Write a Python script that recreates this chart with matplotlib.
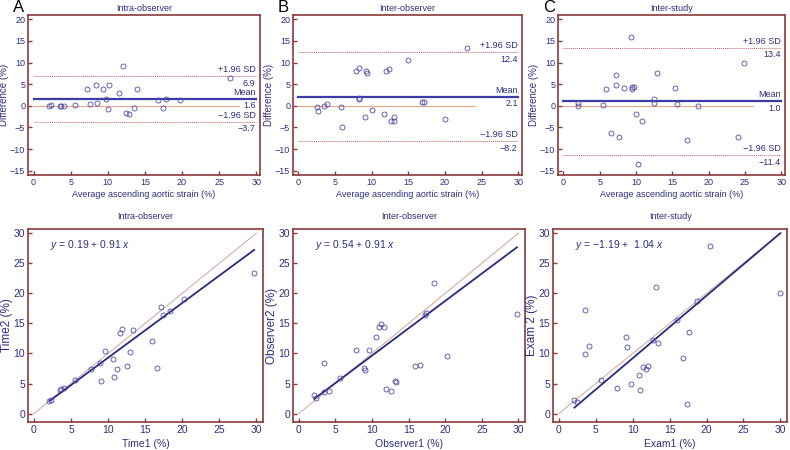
import matplotlib
matplotlib.use('Agg')
import matplotlib.pyplot as plt

plt.rcParams['font.family'] = ['Liberation Sans', 'DejaVu Sans']
plt.rcParams['mathtext.fontset'] = 'custom'
plt.rcParams['mathtext.rm'] = 'Liberation Sans'
plt.rcParams['mathtext.it'] = 'Liberation Sans:italic'

# ---- Bland-Altman data (average, difference) ----
intra_avg = [2.1, 2.3, 3.5, 3.7, 4.1, 5.6, 7.2, 7.6, 8.4, 8.6, 9.3, 9.8, 10.0, 10.2,
             11.5, 12.0, 12.5, 12.9, 13.5, 13.9, 16.7, 17.4, 17.8, 19.7, 26.4]
intra_diff = [0.0, 0.15, -0.15, -0.15, 0.0, 0.15, 3.85, 0.46, 4.9, 0.7, 3.85, 1.6, -0.7, 4.9,
              3.0, 9.15, -1.6, -1.9, -0.54, 4.0, 1.3, -0.4, 1.46, 1.3, 6.5]

inter_avg = [2.5, 2.7, 3.5, 3.9, 5.8, 6.0, 7.9, 8.2, 8.2, 8.3, 9.2, 9.3, 9.1, 10.0,
             11.7, 11.9, 12.4, 12.6, 13.0, 13.0, 14.9, 16.8, 17.1, 20.0, 23.0]
inter_diff = [-0.2, -1.15, -0.1, 0.5, -0.3, -4.8, 8.0, 8.85, 1.9, 1.5, 8.0, 7.5, -2.6, -0.9,
              -2.0, 8.1, 8.5, -3.5, -2.6, -3.5, 10.6, 0.77, 0.77, -3.15, 13.3]

study_avg = [2.0, 2.0, 5.5, 5.9, 6.6, 7.2, 7.25, 7.7, 8.4, 9.3, 9.4, 9.5, 9.7, 10.0,
             10.3, 10.8, 12.4, 12.4, 12.9, 15.4, 15.7, 17.0, 18.5, 24.0, 24.9]
study_diff = [0.6, 0.0, 0.15, 3.8, -6.2, 4.9, 7.2, -7.1, 4.2, 15.8, 3.8, 4.4, 4.3, -1.8,
              -13.4, -3.6, 1.5, 0.6, 7.5, 4.15, 0.46, -7.85, 0.0, -7.3, 9.8]

# mean, upper limit, lower limit
intra_limits = [1.6, 6.9, -3.7]
inter_limits = [2.1, 12.4, -8.2]
study_limits = [1.0, 13.4, -11.4]

# ---- scatter data ----
time1 = [2.1, 2.35, 3.5, 3.7, 4.1, 5.6, 7.7, 8.9, 9.1, 9.6, 10.6, 10.8, 11.2, 11.6,
         11.9, 12.6, 13.0, 13.3, 15.9, 16.6, 17.2, 17.4, 18.4, 20.2, 29.7]
time2 = [2.06, 2.3, 3.85, 4.06, 4.2, 5.56, 7.46, 8.35, 5.4, 10.46, 9.1, 6.07, 7.4, 13.47,
         14.0, 7.9, 10.2, 13.9, 12.1, 7.57, 17.75, 16.36, 17.1, 19.1, 23.4]

obs1 = [2.1, 2.35, 3.5, 3.45, 4.1, 5.65, 7.8, 8.95, 9.1, 9.6, 10.6, 10.9, 11.2, 11.6,
        11.9, 12.6, 13.1, 13.3, 15.9, 16.6, 17.2, 17.4, 18.5, 20.2, 29.8]
obs2 = [3.17, 2.6, 8.4, 3.56, 3.7, 6.0, 10.5, 7.6, 7.2, 10.6, 12.8, 14.4, 14.9, 14.4,
        4.06, 3.7, 5.5, 5.3, 7.9, 8.07, 16.4, 16.75, 21.7, 9.6, 16.5]

exam1 = [2.1, 2.4, 3.5, 3.6, 4.1, 5.7, 7.9, 9.1, 9.2, 9.7, 10.8, 10.95, 11.35, 11.8,
         12.1, 12.8, 13.2, 13.4, 16.0, 16.8, 17.3, 17.6, 18.7, 20.5, 30.0]
exam2 = [2.2, 1.9, 9.9, 17.3, 11.3, 5.6, 4.25, 12.7, 11.0, 5.0, 6.5, 3.9, 7.7, 7.46,
         7.85, 12.3, 21.1, 11.8, 15.5, 9.2, 1.6, 13.5, 18.7, 27.8, 20.1]

# intercept, slope
intra_fit = [0.19, 0.91]
inter_fit = [0.54, 0.91]
study_fit = [-1.19, 1.04]

titles = ['Intra-observer', 'Inter-observer', 'Inter-study']
letters = ['A', 'B', 'C']

FRAME = '#8b3a3a'
TEXT = '#2e2e80'
MARK = '#4c4ca8'

W, H = 790, 450
fig = plt.figure(figsize=(7.9, 4.5), dpi=100)


def px_axes(l, t, r, b):
    return fig.add_axes([l / W, 1 - b / H, (r - l) / W, (b - t) / H])


def style(ax, fs):
    for s in ax.spines.values():
        s.set_color(FRAME)
        s.set_linewidth(1.2)
    ax.tick_params(direction='in', length=3, width=1, color=FRAME,
                   labelcolor=TEXT, labelsize=fs, top=False, right=False, pad=2)
    ax.set_xticks([0, 5, 10, 15, 20, 25, 30])


# ---------- top row: Bland-Altman ----------
top_boxes = [(28, 15, 260, 175), (293, 15, 522, 175), (558, 15, 785, 175)]
ba = [(intra_avg, intra_diff, intra_limits),
      (inter_avg, inter_diff, inter_limits),
      (study_avg, study_diff, study_limits)]

for i, (box, (avg, diff, lim)) in enumerate(zip(top_boxes, ba)):
    ax = px_axes(*box)
    style(ax, 6.5)
    ax.set_xlim(-0.75, 30.5)
    ax.set_ylim(-16, 21)
    ax.set_yticks([-15, -10, -5, 0, 5, 10, 15, 20])
    ax.set_yticklabels(['\u221215', '\u221210', '\u22125', '0', '5', '10', '15', '20'])

    ax.plot([0, max(avg) * 1.05], [0, 0], color='#e8a888', lw=0.8)
    ax.plot([0, 30], [lim[0], lim[0]], color='#3c3ca8', lw=1.6)
    ax.plot([0, 30], [lim[1], lim[1]], color='#c46060', lw=0.7, ls=(0, (1, 1)))
    ax.plot([0, 30], [lim[2], lim[2]], color='#c46060', lw=0.7, ls=(0, (1, 1)))
    ax.plot(avg, diff, 'o', ms=3.6, mfc='none', mec=MARK, mew=0.6)

    for val, lab in zip(lim, ['Mean', '+1.96 SD', '\u22121.96 SD']):
        ax.text(29.9, val + 0.5, lab, ha='right', va='bottom', fontsize=6.5, color=TEXT)
        ax.text(29.9, val - 0.6, f'{val:.1f}'.replace('-', '\u2212'),
                ha='right', va='top', fontsize=6.5, color=TEXT)

    ax.set_xlabel('Average ascending aortic strain (%)', fontsize=6.5, color=TEXT, labelpad=2)
    ax.set_ylabel('Difference (%)', fontsize=7, color=TEXT)
    ax.yaxis.set_label_coords(-19 / (box[2] - box[0]), 0.5)
    ax.set_title(titles[i], fontsize=6.5, color=TEXT, pad=3)
    fig.text((box[0] - 15) / W, 1 - 8 / H, letters[i], fontsize=12,
             ha='left', va='center', color='black')

# ---------- bottom row: scatter with regression ----------
bot_boxes = [(28, 229, 263, 422), (293, 229, 525, 422), (553, 229, 787, 422)]
sc = [(time1, time2, intra_fit, 'Time1 (%)', 'Time2 (%)'),
      (obs1, obs2, inter_fit, 'Observer1 (%)', 'Observer2 (%)'),
      (exam1, exam2, study_fit, 'Exam1 (%)', 'Exam 2 (%)')]

for i, (box, (x, y, fit, xl, yl)) in enumerate(zip(bot_boxes, sc)):
    ax = px_axes(*box)
    style(ax, 7.5)
    ax.set_xlim(-0.8, 30.9)
    ax.set_ylim(-1.4, 30.7)
    ax.set_yticks([0, 5, 10, 15, 20, 25, 30])

    ax.plot([0, 30], [0, 30], color='#d8aca4', lw=0.8)
    x0, x1 = min(x), max(x)
    ax.plot([x0, x1], [fit[0] + fit[1] * x0, fit[0] + fit[1] * x1],
            color='#2a2a80', lw=1.3)
    ax.plot(x, y, 'o', ms=3.6, mfc='none', mec=MARK, mew=0.6)

    b = f'{fit[0]:.2f}'.replace('-', '\u2212')
    gap = ' ' if fit[0] < 0 else ''
    ax.text(0.095, 0.915, f'$y$ = {b} + {gap}{fit[1]:.2f} $x$', transform=ax.transAxes,
            fontsize=7.5, color=TEXT, ha='left', va='center')

    ax.set_xlabel(xl, fontsize=7.5, color=TEXT, labelpad=3)
    ax.set_ylabel(yl, fontsize=8.5, color=TEXT)
    ax.yaxis.set_label_coords(-15 / (box[2] - box[0]), 0.5)
    ax.set_title(titles[i], fontsize=6.5, color=TEXT, pad=7)

fig.savefig('out.png', dpi=100)
